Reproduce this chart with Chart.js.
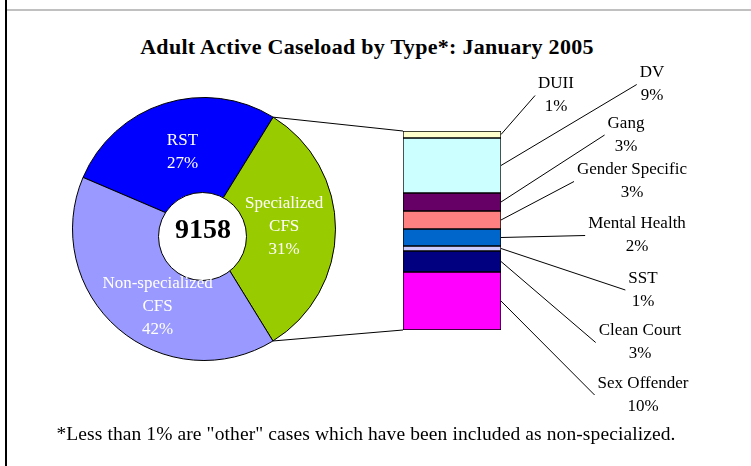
<!DOCTYPE html>
<html><head><meta charset="utf-8">
<script src="https://cdn.jsdelivr.net/npm/chart.js@4.4.1/dist/chart.umd.min.js"></script>
<style>
html,body{margin:0;padding:0;background:#fff;width:751px;height:466px;overflow:hidden;}
#wrap{position:relative;width:751px;height:466px;}
canvas{position:absolute;left:0;top:0;}
.t{position:absolute;font-family:"Liberation Serif","Times New Roman",serif;color:#000;white-space:nowrap;transform:translateX(-50%);}
#title{left:367px;top:33px;font-weight:bold;font-size:22px;letter-spacing:0.3px;line-height:28px;}
#foot{left:366px;top:422px;font-size:19.5px;letter-spacing:0.1px;line-height:24px;}
#lline{position:absolute;left:5px;top:0;width:2px;height:466px;background:#000;}
#tline{position:absolute;left:7px;top:9px;width:744px;height:2px;background:#c0c0c0;}
</style></head>
<body><div id="wrap">
<div id="lline"></div><div id="tline"></div>
<div id="title" class="t">Adult Active Caseload by Type*: January 2005</div>
<canvas id="pie" width="751" height="466"></canvas>
<canvas id="bar" width="751" height="466"></canvas>
<div id="foot" class="t">*Less than 1% are "other" cases which have been included as non-specialized.</div>
</div>
<script>
// ---- data ----
const pieCategories = ['RST', 'Specialized CFS', 'Non-specialized CFS'];
const pieLabelLines = [['RST'], ['Specialized', 'CFS'], ['Non-specialized', 'CFS']];
const pieShares = [27.4, 32.4, 40.2];            // share of the circle as drawn
const piePercentLabels = ['27%', '31%', '42%'];  // printed percentages
const totalCases = '9158';

const subCategories = ['DUII', 'DV', 'Gang', 'Gender Specific', 'Mental Health', 'SST', 'Clean Court', 'Sex Offender'];
const subShares = [1.14, 8.95, 2.93, 2.93, 2.77, 0.81, 3.42, 9.44];
const subPercentLabels = ['1%', '9%', '3%', '3%', '2%', '1%', '3%', '10%'];

// ---- styling / layout ----
const pieColors = ['#0000FF', '#99CC00', '#9999FF'];
const subColors = ['#FFFFCC', '#CCFFFF', '#660066', '#FF8080', '#0066CC', '#CCCCFF', '#000080', '#FF00FF'];
const pieLabelAngleShift = [2, -1.5, -10];   // degrees
const pieLabelRadius = [0.61, 0.61, 0.69];
const leaderLabelPos = [[556, 95.5], [652, 84.5], [626, 135], [632, 181.5], [637, 235.5], [643, 290], [640, 342.5], [643, 395]];
const FONT = '"Liberation Serif","Times New Roman",serif';

Chart.defaults.animation = false;
Chart.defaults.events = [];

const piePlugin = {
  id: 'pieDecor',
  afterDatasetsDraw(chart) {
    const ctx = chart.ctx;
    const arcs = chart.getDatasetMeta(0).data;
    const cx = arcs[0].x, cy = arcs[0].y, R = arcs[0].outerRadius;
    ctx.save();
    // white centre disc
    ctx.beginPath();
    ctx.arc(cx - 1.5, cy + 7.5, 44, 0, Math.PI * 2);
    ctx.fillStyle = '#fff';
    ctx.fill();
    ctx.lineWidth = 1;
    ctx.strokeStyle = '#000';
    ctx.stroke();
    ctx.textAlign = 'center';
    ctx.textBaseline = 'middle';
    ctx.fillStyle = '#000';
    ctx.font = 'bold 28px ' + FONT;
    ctx.fillText(totalCases, cx - 1, cy + 2);
    // slice labels
    ctx.fillStyle = '#fff';
    ctx.font = '17px ' + FONT;
    arcs.forEach((arc, i) => {
      const lines = [...pieLabelLines[i], piePercentLabels[i]];
      const mid = (arc.startAngle + arc.endAngle) / 2 + pieLabelAngleShift[i] * Math.PI / 180;
      const r = R * pieLabelRadius[i];
      const x = cx + Math.cos(mid) * r, y = cy + Math.sin(mid) * r;
      lines.forEach((t, k) => ctx.fillText(t, x, y + (k - (lines.length - 1) / 2) * 23));
    });
    ctx.restore();
  }
};

const pieChart = new Chart(document.getElementById('pie'), {
  type: 'pie',
  data: {
    labels: pieCategories,
    datasets: [{
      data: pieShares,
      backgroundColor: pieColors,
      borderColor: '#000',
      borderWidth: 1,
      hoverOffset: 0,
      offset: 0
    }]
  },
  options: {
    responsive: false,
    devicePixelRatio: 1,
    rotation: -66.9,
    layout: { padding: { left: 72, top: 97, right: 415, bottom: 105 } },
    plugins: { legend: { display: false }, tooltip: { enabled: false } }
  },
  plugins: [piePlugin]
});

const barPlugin = {
  id: 'barDecor',
  afterDatasetsDraw(chart) {
    const ctx = chart.ctx;
    const bars = subCategories.map((_, i) => chart.getDatasetMeta(i).data[0]);
    const left = bars[0].x - bars[0].width / 2;
    const right = bars[0].x + bars[0].width / 2;
    const top = Math.min(bars[0].y, bars[0].base);
    const last = bars[bars.length - 1];
    const bottom = Math.max(last.y, last.base);
    ctx.save();
    ctx.strokeStyle = '#000';
    ctx.lineWidth = 1;
    // connectors from the green slice to the bar
    const pm = pieChart.getDatasetMeta(0).data[1];
    const p1 = [pm.x + Math.cos(pm.startAngle) * pm.outerRadius, pm.y + Math.sin(pm.startAngle) * pm.outerRadius];
    const p2 = [pm.x + Math.cos(pm.endAngle) * pm.outerRadius, pm.y + Math.sin(pm.endAngle) * pm.outerRadius];
    ctx.beginPath();
    ctx.moveTo(p1[0], p1[1]); ctx.lineTo(left, top);
    ctx.moveTo(p2[0], p2[1]); ctx.lineTo(left, bottom);
    ctx.stroke();
    // leader labels
    ctx.font = '17px ' + FONT;
    ctx.textAlign = 'center';
    ctx.textBaseline = 'middle';
    ctx.fillStyle = '#000';
    bars.forEach((b, i) => {
      const [lx, ly] = leaderLabelPos[i];
      const lines = [subCategories[i], subPercentLabels[i]];
      const w = Math.max(...lines.map(t => ctx.measureText(t).width));
      const sy = (b.y + b.base) / 2;
      ctx.beginPath();
      ctx.moveTo(right, sy);
      ctx.lineTo(lx - w / 2 - 3, ly);
      ctx.stroke();
      lines.forEach((t, k) => ctx.fillText(t, lx, ly + (k - 0.5) * 23));
    });
    ctx.restore();
  }
};

new Chart(document.getElementById('bar'), {
  type: 'bar',
  data: {
    labels: ['Specialized CFS'],
    datasets: subCategories.map((name, i) => ({
      label: name,
      data: [subShares[i]],
      backgroundColor: subColors[i],
      borderColor: '#000',
      borderWidth: 1,
      borderSkipped: false,
      barPercentage: 1,
      categoryPercentage: 1
    }))
  },
  options: {
    responsive: false,
    devicePixelRatio: 1,
    layout: { padding: { left: 403, top: 131, right: 250, bottom: 136 } },
    scales: {
      x: { display: false, stacked: true },
      y: { display: false, stacked: true, reverse: true, min: 0, max: subShares.reduce((a, b) => a + b, 0) }
    },
    plugins: { legend: { display: false }, tooltip: { enabled: false } }
  },
  plugins: [barPlugin]
});
</script>
</body></html>
